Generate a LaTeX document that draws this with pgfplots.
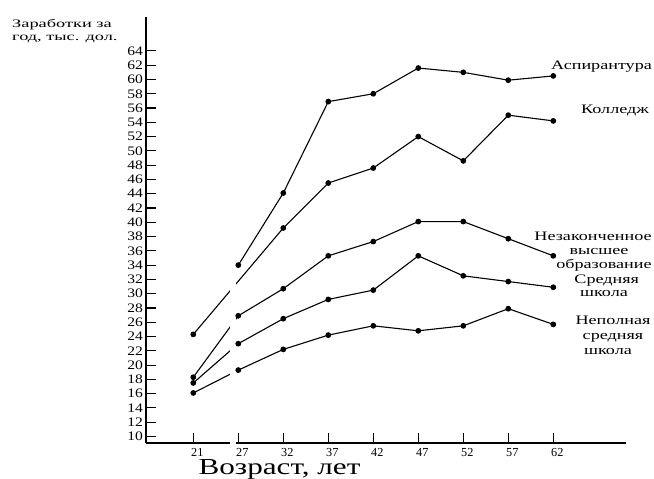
\documentclass[border=0pt]{standalone}
\usepackage{fontspec}
\setmainfont{Liberation Serif}
\usepackage{graphicx}
\usepackage{pgfplots}
\pgfplotsset{compat=1.18}
\begin{document}
\begin{tikzpicture}
\begin{axis}[
  at={(0,0)}, anchor=south west, scale only axis,
  width=480bp, height=426bp,
  xmin=-1.051, xmax=9.616, ymin=9.09, ymax=68.75,
  axis lines=left, axis line style={-, line width=2.6bp, black},
  xtick={0,...,8}, xticklabels={21,27,32,37,42,47,52,57,62},
  ytick={10,12,...,64},
  tick align=inside, major tick length=10bp,
  tick style={line width=1.1bp, black},
  /pgf/number format/assume math mode=true,
  yticklabel={\scalebox{1.2}[1]{\pgfmathprintnumber{\tick}}},
  yticklabel style={font=\fontsize{13}{13}\selectfont, anchor=east, inner sep=0pt, xshift=-3bp},
  xticklabel style={font=\fontsize{12.3}{12.3}\selectfont, anchor=north, inner sep=0pt, yshift=-5bp, xshift=4bp},
  clip=false,
  ser/.style={black, solid, line width=1.1bp, mark=*, mark size=2.3bp, mark options={solid, fill=black, draw=black}},
]
% Аспирантура
\addplot[ser] coordinates {(1,34.0) (2,44.1) (3,56.9) (4,58.0) (5,61.6) (6,61.0) (7,59.9) (8,60.5)};
% Колледж
\addplot[ser] coordinates {(0,24.3) (2,39.2) (3,45.5) (4,47.6) (5,52.0) (6,48.6) (7,55.0) (8,54.2)};
% Незаконченное высшее
\addplot[ser] coordinates {(0,18.3) (1,26.9) (2,30.7) (3,35.3) (4,37.3) (5,40.1) (6,40.1) (7,37.7) (8,35.3)};
% Средняя школа
\addplot[ser] coordinates {(0,17.5) (1,23.0) (2,26.5) (3,29.2) (4,30.5) (5,35.3) (6,32.5) (7,31.7) (8,30.9)};
% Неполная средняя школа
\addplot[ser] coordinates {(0,16.1) (1,19.3) (2,22.2) (3,24.2) (4,25.5) (5,24.8) (6,25.5) (7,27.9) (8,25.7)};
% axis break
\fill[white] (axis cs:0.816,8.6) rectangle (axis cs:0.95,33.3);
\end{axis}
\pgfresetboundingbox
\useasboundingbox (-146bp,-36bp) rectangle (508bp,443bp);
\begin{scope}[every node/.style={inner sep=0pt, anchor=base, font=\fontsize{13}{13}\selectfont}]
\node at (455.5bp,373.7bp) {\scalebox{1.4}[1]{Аспирантура}};
\node at (469bp,329bp) {\scalebox{1.4}[1]{Колледж}};
\node at (447bp,202.3bp) {\scalebox{1.4}[1]{Незаконченное}};
\node at (453bp,188bp) {\scalebox{1.4}[1]{высшее}};
\node at (458bp,174bp) {\scalebox{1.4}[1]{образование}};
\node at (460.7bp,159.7bp) {\scalebox{1.4}[1]{Средняя}};
\node at (458bp,146.7bp) {\scalebox{1.4}[1]{школа}};
\node at (467bp,118bp) {\scalebox{1.4}[1]{Неполная}};
\node at (467bp,103bp) {\scalebox{1.4}[1]{средняя}};
\node at (462bp,88bp) {\scalebox{1.4}[1]{школа}};
\end{scope}
\node[inner sep=0pt, anchor=base, font=\fontsize{23}{23}\selectfont] at (133.5bp,-31bp) {\scalebox{1.36}[1]{Возраст, лет}};
\node[inner sep=0pt, anchor=base west, font=\fontsize{11.5}{11.5}\selectfont] at (-134bp,415.7bp) {\scalebox{1.6}[1]{Заработки за}};
\node[inner sep=0pt, anchor=base west, font=\fontsize{11.5}{11.5}\selectfont] at (-134bp,402.3bp) {\scalebox{1.6}[1]{год, тыс. дол.}};
\end{tikzpicture}
\end{document}
